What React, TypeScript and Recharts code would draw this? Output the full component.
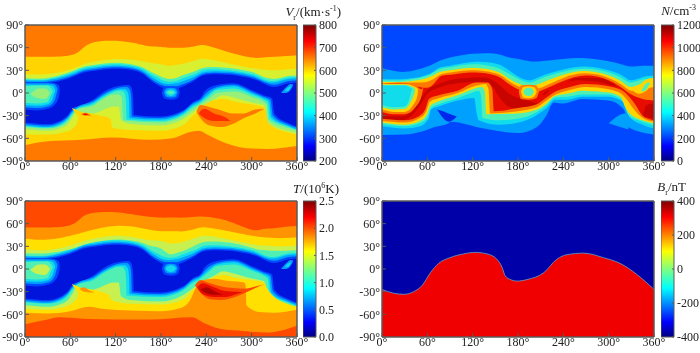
import { Area, ComposedChart, Line, XAxis, YAxis } from "recharts";

const FONT = "'Liberation Serif', 'Times New Roman', serif";
const FRAME = "#5a5a5a";

const lonMajor = [0, 60, 120, 180, 240, 300, 360];
const lonMinor = [0, 10, 20, 30, 40, 50, 60, 70, 80, 90, 100, 110, 120, 130, 140, 150, 160, 170, 180, 190, 200, 210, 220, 230, 240, 250, 260, 270, 280, 290, 300, 310, 320, 330, 340, 350, 360];
const latMajor = [-90, -60, -30, 0, 30, 60, 90];
const latMinor = [-90, -80, -70, -60, -50, -40, -30, -20, -10, 0, 10, 20, 30, 40, 50, 60, 70, 80, 90];

const jetStops: [string, string][] = [
  ["0%", "#00007f"], ["11%", "#0000ff"], ["36%", "#00ffff"], ["50%", "#7fff7f"],
  ["63%", "#ffff00"], ["88%", "#ff0000"], ["100%", "#7f0000"],
];

// north edges of the velocity / temperature belt, lat at each lon
const beltLon = [0, 30, 60, 75, 90, 120, 150, 165, 180, 190, 200, 210, 225, 240, 270, 300, 315, 330, 345, 360];
const vNorthBlue = [13, 13, 20, 26, 29, 32, 28, 18, 8, 6, 6, 9, 17, 24, 24, 19, 13, 8, 12, 14];
const vNorthSky = [15, 15, 22, 28, 31, 34, 30, 20, 11, 9, 9, 12, 19, 26, 26, 21, 15, 11, 15, 17];
const vNorthCyan = [17, 17, 24, 30, 33, 36, 32, 23, 14, 12, 13, 16, 22, 28, 28, 23, 17, 14, 18, 19];
const vNorthTeal = [18, 18, 26, 32, 35, 38, 34, 26, 18, 15, 16, 20, 25, 31, 30, 25, 19, 16, 20, 21];
const vNorthGreen = [20, 20, 28, 34, 37, 40, 36, 29, 22, 19, 20, 24, 29, 34, 33, 28, 22, 19, 22, 23];
const vNorthLime = [25, 25, 31, 37, 41, 45, 43, 40, 38, 36, 37, 39, 43, 45, 39, 33, 31, 30, 31, 32];
const vNorthOrange = [48, 48, 50, 58, 67, 69, 65, 62, 61, 60, 60, 60, 62, 63, 54, 47, 47, 48, 49, 50];

const tNorthLime = [21, 21, 26, 31, 35, 39, 36, 31, 27, 20, 21, 24, 31, 36, 35, 28, 25, 24, 24, 25];
const tNorthYellow = [26, 25, 31, 36, 40, 44, 41, 38, 37, 34, 34, 36, 41, 44, 39, 33, 31, 30, 30, 31];
const tNorthOrange = [40, 39, 44, 48, 52, 57, 55, 52, 50, 50, 50, 50, 53, 55, 50, 44, 42, 41, 41, 42];
const tNorthHot = [55, 55, 58, 68, 74, 75, 71, 69, 68, 68, 68, 68, 69, 69, 63, 52, 53, 54, 56, 57];

// south edges, [lon, lat]
const vSouthBlue = [[0, -39], [30, -41], [46, -37], [57, -29], [65, -19], [73, -17], [90, -9], [105, 2], [117, 7.5], [128, 10], [137, 10.5], [141, 7], [143, -5], [144, -29], [179, -31], [210, -22.5], [223, -11.5], [232, -7], [238.5, 3], [254, 10.5], [276, 13], [302.5, 3], [316, -3], [327, -7], [330, -27], [347, -39], [360, -44.5]];
const vSouthSky = [[0, -41], [30, -43], [46, -39], [57, -31], [64, -22], [70, -18], [90, -11], [105, -1], [117, 5], [127, 7.5], [135, 8], [139, 4], [140.5, -6], [141.5, -31], [179, -33], [210, -24], [222, -14], [232, -9], [240, 0], [254, 8], [276, 11], [302, 1], [316, -5], [325, -9], [328, -29], [347, -41], [360, -46]];
const vSouthCyan = [[0, -43], [30, -45], [46, -41], [57, -33], [63, -25], [70, -20], [90, -13], [105, -3], [117, 3], [125, 5], [132, 5], [136, 1], [137.5, -8], [138.5, -33], [179, -35], [210, -26], [221, -17], [232, -11], [241, -3], [254, 6], [276, 9], [302, -1], [316, -7], [323, -11], [326, -31], [347, -43], [360, -48]];
const vSouthTeal = [[0, -44], [30, -46], [46, -43], [57, -35], [63, -27], [69, -21], [90, -15], [105, -5], [117, 1], [123, 3], [128, 3], [132, -1], [133.5, -10], [134.5, -35], [179, -37], [210, -28], [220, -20], [232, -13], [242, -5], [254, 4], [276, 6], [302, -3], [316, -9], [321, -13], [324, -33], [347, -44], [360, -49]];
const vSouthGreen = [[0, -45], [30, -47], [46, -44], [57, -37], [63, -29], [69, -22], [90, -17], [105, -7], [117, -2], [124, -2], [128, -6], [130, -36], [179, -39], [210, -30], [220, -23], [232, -15], [244, -7], [254, 0], [276, 2], [302, -6], [316, -12], [320, -16], [322, -35], [347, -46], [360, -50]];
const vSouthLime = [[0, -48], [30, -50], [46, -47], [57, -41], [63, -32], [68, -25], [85, -28], [100, -24], [117, -18], [124, -18], [127, -36], [140, -41], [179, -43], [210, -34], [220, -27], [232, -19], [250, -9], [262, -3], [276, -6], [302, -13], [316, -16], [318, -20], [320, -38], [347, -50], [360, -53]];
const vSouthYellow = [[0, -55], [30, -55], [55, -51], [68, -42], [72, -28], [80, -26], [100, -30], [113, -34], [116, -46], [140, -49], [179, -50], [210, -42], [220, -32], [232, -22], [240, -14], [262, -8], [280, -12], [316, -19], [318, -22], [322, -40], [347, -52], [360, -55]];
const vSouthOrange = [[0, -69], [30, -64], [75, -62], [115, -59], [165, -62], [195, -60], [217, -52], [230, -50], [243, -56], [267, -67], [293, -73], [320, -74], [360, -70]];

const tSouthYellow = [[0, -53], [30, -54], [55, -49], [68, -40], [72, -28], [80, -26], [100, -30], [110, -34], [116, -42], [140, -46], [179, -47], [210, -40], [220, -30], [232, -20], [245, -13], [262, -8], [280, -12], [316, -18], [320, -25], [330, -37], [347, -46], [360, -50]];
const tSouthOrange = [[0, -58], [30, -59], [60, -56], [85, -50], [105, -53], [140, -55], [180, -56], [205, -52], [218, -42], [226, -25], [232, -16], [250, -13], [270, -16], [290, -18], [292, -22], [293, -48], [310, -57], [330, -58], [360, -54]];
const tSouthHot = [[0, -73], [30, -67], [45, -64], [77, -66], [120, -67], [165, -67], [221, -64], [236, -71], [258, -79], [289, -82], [320, -84], [360, -75]];

// islands, [lon, lower lat, upper lat]
const vIslandABlue = [[0, -22, 14], [15, -23, 14], [30, -21, 14], [40, -15, 13], [45, -5, 10], [46, 3, 3]];
const vIslandASky = [[0, -19, 13], [15, -20, 13], [30, -18, 13], [38, -12, 12], [42, 0, 8], [43, 5, 5]];
const vIslandACyan = [[0, -16, 11], [15, -17, 11], [30, -15, 11], [36, -9, 10], [39, 0, 6], [40, 3, 3]];
const vIslandATeal = [[0, -13, 9], [15, -14, 10], [30, -12, 10], [33, -6, 8], [36, 0, 4], [37, 2, 2]];
const vIslandAGreen = [[7, -1, -1], [12, -5, 3], [18, -7, 6], [26, -8, 6], [31, -4, 3], [33, 0, 0]];
const spotBlue = [[181, 0, 0], [184, -7, 8], [193, -9, 9], [202, -7, 8], [205, 1, 1]];
const spotSky = [[184, 1, 1], [187, -5, 6], [193, -6, 7], [199, -5, 6], [202, 1, 1]];
const spotCyan = [[186, 1, 1], [189, -3, 4], [193, -4, 5], [197, -3, 4], [200, 1, 1]];
const spotTeal = [[188, 1, 1], [193, -2, 3], [198, 1, 1]];
const stripSky = [[339, 0, 0], [345, 0, 7], [352, 5, 12], [355, 11, 11]];
const stripCyan = [[344, 3, 3], [348, 3, 7], [352, 9, 9]];
const tipYellow = [[62, -20, -20], [72, -32, -24], [85, -36, -28], [100, -36, -31], [114, -35, -35]];
const tipOrange = [[74, -28, -28], [80, -30, -26], [88, -30, -30]];
const tipHot = [[76, -28, -28], [80, -29, -27], [84, -29, -29]];
const vBlobOrange = [[227, -25, -25], [232, -33, -16], [245, -43, -19], [260, -45, -23], [275, -41, -27], [290, -33, -27], [305, -27, -22], [317, -21, -21]];
const vBlobRed = [[230, -27, -27], [237, -33, -21], [250, -37, -27], [265, -37, -32], [272, -37, -37]];

const tTipOrange = [[72, -26, -26], [78, -30, -24], [85, -31, -28], [92, -31, -31]];
const tBlobHot = [[225, -22, -22], [232, -31, -15], [245, -40, -19], [260, -41, -23], [275, -38, -25], [290, -32, -26], [305, -25, -23], [318, -20, -20]];
const tBlobRed = [[228, -24, -24], [235, -33, -19], [250, -37, -24], [265, -37, -29], [280, -33, -30], [288, -31, -31]];
const tBlobDark = [[232, -27, -27], [240, -32, -24], [252, -34, -30], [262, -34, -34]];

// density panel
const nNorthLon = [0, 30, 60, 75, 90, 120, 150, 165, 180, 195, 210, 240, 270, 300, 320, 330, 345, 360];
const nNorthRed = [11, 13, 7, 20, 24, 27, 23, 14, 5, 0, 3, 16, 23, 17, 5, -2, -8, -10];
const nNorthOrange = [13, 14, 15, 23, 27, 30, 26, 18, 9, 5, 7, 20, 26, 20, 9, 3, 5, 8];
const nNorthYellow = [15, 15, 20, 27, 30, 33, 29, 21, 13, 9, 13, 24, 29, 23, 13, 8, 13, 16];
const nNorthTeal = [17, 17, 23, 31, 34, 38, 34, 27, 19, 14, 19, 28, 32, 27, 18, 14, 18, 20];
const nNorthCyan = [18.5, 18.5, 24, 33, 36, 41, 39, 32, 22, 17, 22, 31, 35, 30, 22, 17, 21, 23];
const nNorthBlue = [33, 28, 35, 42, 47, 52, 52, 48, 45, 42, 42, 45, 46, 42, 37, 35, 36, 36];

const nSouthRed = [[0, -34], [30, -36], [50, -30], [58, -20], [62, -8], [75, -3], [100, 3], [125, 14], [140, 14], [146, 5], [148, -24], [180, -20], [205, -15], [215, -8], [230, 2], [245, 7], [270, 12], [300, 9], [320, 2], [328, -6], [335, -15], [345, -30], [360, -36]];
const nSouthOrange = [[0, -37], [30, -39], [50, -33], [59, -23], [63, -12], [75, -7], [100, 0], [125, 10], [137, 12], [141, 5], [143, -27], [180, -24], [205, -19], [215, -12], [230, -2], [245, 3], [270, 8], [300, 5], [318, -2], [325, -10], [332, -20], [345, -33], [360, -38]];
const nSouthYellow = [[0, -39], [30, -42], [50, -37], [60, -27], [64, -17], [75, -11], [100, -3], [120, 5], [132, 8], [136, 3], [138, -28], [180, -27], [205, -22], [218, -14], [229, -4], [245, -1], [265, 3], [298, 1], [316, -5], [320, -14], [326, -25], [345, -36], [360, -40]];
const nSouthTeal = [[0, -41], [30, -44], [50, -40], [61, -30], [65, -20], [75, -15], [100, -7], [118, 0], [128, 3], [131, -3], [133, -33], [155, -36], [185, -33], [205, -25], [218, -16], [229, -6], [245, -5], [265, -2], [298, -2], [316, -8], [320, -17], [325, -28], [345, -38], [360, -43]];
const nSouthCyan = [[0, -44], [30, -47], [50, -44], [62, -33], [65, -22], [75, -18], [100, -10], [122, -6.5], [125, -25], [128, -36], [155, -42], [185, -38], [205, -29], [218, -20], [229, -9], [245, -9], [265, -5], [298, -5], [318, -11], [322, -20], [327, -31], [345, -42], [360, -47]];
const nSouthBlue = [[0, -55.5], [30, -55], [53, -51], [70, -45], [88, -40], [90, -38], [135, -47], [180, -53], [205, -45], [218, -29], [227, -13], [240, -14], [265, -8], [300, -10], [315, -17], [322, -26], [324, -44], [360, -55]];
const nWedge = [[73, -22, -22], [88, -38, -27], [99, -31, -31]];
const nStrip = [[300, -40, -40], [322, -47, -27], [326, -48, -30]];

const nIslandOrange = [[0, -25, 12], [15, -28, 13], [30, -28, 13], [45, -18, 10], [52, -5, 5], [55, 8, 8]];
const nIslandYellow = [[0, -22, 12], [15, -25, 12], [30, -25, 12], [42, -15, 9], [47, -3, 6], [48, 5, 5]];
const nIslandTeal = [[0, -19, 11], [15, -22, 11], [30, -21, 11], [38, -12, 9], [43, 0, 6], [44, 4, 4]];
const nIslandCyan = [[0, -16, 10], [15, -19, 10], [30, -18, 10], [36, -9, 8], [39, 3, 6], [40, 5, 5]];
const nSpotOrange = [[181, 2, 2], [184, -8, 10], [194, -9, 11], [204, -7, 10], [208, 2, 2]];
const nSpotYellow = [[184, 2, 2], [187, -6, 8], [194, -7, 9], [201, -5, 8], [205, 2, 2]];
const nSpotTeal = [[187, 2, 2], [190, -3, 6], [194, -4, 7], [198, -3, 6], [201, 2, 2]];
const nStripYellow = [[332, 3, 3], [340, -1, 10], [350, 3, 18], [358, 14, 20], [360, 17, 17]];
const nStripTeal = [[343, 2, 2], [348, 3, 11], [353, 10, 14], [355, 13, 13]];
const nCore = [[0, -36, -30], [25, -36, -31], [40, -29, -25], [50, -17, -9], [60, -1, 4], [75, 7, 12], [100, 13, 19], [130, 15, 21], [145, 10, 18], [155, -5, 11], [170, -19, -2], [190, -21, -9], [205, -16, -14], [210, -15, -15]];
const nStreakA = [[245, 15, 15], [258, 17, 20], [285, 15, 20], [305, 10, 13], [310, 9, 9]];
const nStreakB = [[212, -3, -3], [216, -2, 2], [222, 4, 4]];
const nPatch = [[345, -33, -33], [350, -32, -16], [360, -34, -14]];

// radial field boundary
const bEdge = [[0, -27], [15, -32], [29, -33.5], [42, -30], [53, -22], [64, -5], [75, 7.5], [90, 15], [108, 20], [123.5, 22], [139, 20], [152, 13], [159, 2], [163, -9], [170, -14], [179, -16], [192, -14], [214, -5], [231.5, 13], [245, 19], [267, 21], [293, 15], [315, 7.5], [337, -7], [360, -27]];

const vTicks = [200, 300, 400, 500, 600, 700, 800];
const nTicks = [0, 200, 400, 600, 800, 1000, 1200];
const tTicks = [0, 0.5, 1, 1.5, 2, 2.5];
const bTicks = [-400, -200, 0, 200, 400];

const DARK = "#0014dc";
const BLUE = "#0048ff";
const SKY = "#00a0ff";
const CYAN = "#10dcec";
const TEAL = "#50f0b4";
const GREEN = "#98f078";
const LIME = "#d8f030";
const YELLOW = "#ffd400";
const ORANGE = "#ff7800";
const HOT = "#ff2c00";
const RED = "#e80c00";
const MAROON = "#b00000";
const N_CORE = "#c80400";
const N_WEDGE = "#0028ec";

type Layer = { color: string; curve: "natural" | "monotone"; band: { lon: number; band: number[] }[] };

const zip = (lons: number[], lats: number[]) => lons.map((lon, i) => [lon, lats[i]]);
const north = (color: string, pts: number[][]): Layer => ({
  color,
  curve: "natural",
  band: pts.map(([lon, lat]) => ({ lon, band: [lat, 90] })),
});
const south = (color: string, pts: number[][]): Layer => ({
  color,
  curve: "monotone",
  band: pts.map(([lon, lat]) => ({ lon, band: [-90, lat] })),
});
const island = (color: string, pts: number[][]): Layer => ({
  color,
  curve: "monotone",
  band: pts.map(([lon, lo, hi]) => ({ lon, band: [lo, hi] })),
});

const vLayers: Layer[] = [
  north(BLUE, zip(beltLon, vNorthBlue)), south(BLUE, vSouthBlue),
  north(SKY, zip(beltLon, vNorthSky)), south(SKY, vSouthSky),
  north(CYAN, zip(beltLon, vNorthCyan)), south(CYAN, vSouthCyan),
  north(TEAL, zip(beltLon, vNorthTeal)), south(TEAL, vSouthTeal),
  north(GREEN, zip(beltLon, vNorthGreen)), south(GREEN, vSouthGreen),
  north(LIME, zip(beltLon, vNorthGreen)), south(LIME, vSouthLime),
  north(YELLOW, zip(beltLon, vNorthLime)), south(YELLOW, vSouthYellow),
  north(ORANGE, zip(beltLon, vNorthOrange)), south(ORANGE, vSouthOrange),
  island(BLUE, vIslandABlue), island(SKY, vIslandASky), island(CYAN, vIslandACyan),
  island(TEAL, vIslandATeal), island(GREEN, vIslandAGreen),
  island(BLUE, spotBlue), island(SKY, spotSky), island(CYAN, spotCyan), island(TEAL, spotTeal),
  island(SKY, stripSky), island(CYAN, stripCyan),
  island(YELLOW, tipYellow), island(ORANGE, tipOrange), island(RED, tipHot),
  island(ORANGE, vBlobOrange), island(HOT, vBlobRed),
];

const T_LIME = "#c8f050";
const T_YELLOW = "#ffe000";
const T_ORANGE = "#ff9400";
const T_HOT = "#ff4800";

const tLayers: Layer[] = [
  north(BLUE, zip(beltLon, vNorthBlue)), south(BLUE, vSouthBlue),
  north(SKY, zip(beltLon, vNorthSky)), south(SKY, vSouthSky),
  north(CYAN, zip(beltLon, vNorthCyan)), south(CYAN, vSouthCyan),
  north(TEAL, zip(beltLon, vNorthTeal)), south(TEAL, vSouthTeal),
  north(T_LIME, zip(beltLon, tNorthLime)), south(T_LIME, vSouthLime),
  north(T_YELLOW, zip(beltLon, tNorthYellow)), south(T_YELLOW, tSouthYellow),
  north(T_ORANGE, zip(beltLon, tNorthOrange)), south(T_ORANGE, tSouthOrange),
  north(T_HOT, zip(beltLon, tNorthHot)), south(T_HOT, tSouthHot),
  island(BLUE, vIslandABlue), island(SKY, vIslandASky), island(CYAN, vIslandACyan),
  island(TEAL, vIslandATeal), island(T_LIME, vIslandAGreen),
  island(BLUE, spotBlue), island(SKY, spotSky), island(CYAN, spotCyan),
  island(SKY, stripSky), island(CYAN, stripCyan),
  island(T_YELLOW, tipYellow), island(T_ORANGE, tTipOrange),
  island(T_HOT, tBlobHot), island(RED, tBlobRed), island(MAROON, tBlobDark),
];

const nLayers: Layer[] = [
  island(N_CORE, nCore), island(N_CORE, nStreakA), island(N_CORE, nStreakB), island(N_CORE, nPatch),
  north(ORANGE, zip(nNorthLon, nNorthRed)), south(ORANGE, nSouthRed),
  north(YELLOW, zip(nNorthLon, nNorthOrange)), south(YELLOW, nSouthOrange),
  north(TEAL, zip(nNorthLon, nNorthYellow)), south(TEAL, nSouthYellow),
  north(CYAN, zip(nNorthLon, nNorthTeal)), south(CYAN, nSouthTeal),
  north(SKY, zip(nNorthLon, nNorthCyan)), south(SKY, nSouthCyan),
  north(BLUE, zip(nNorthLon, nNorthBlue)), south(BLUE, nSouthBlue),
  island(N_WEDGE, nWedge), island(SKY, nStrip),
  island(ORANGE, nIslandOrange), island(YELLOW, nIslandYellow), island(TEAL, nIslandTeal), island(CYAN, nIslandCyan),
  island(ORANGE, nSpotOrange), island(YELLOW, nSpotYellow), island(TEAL, nSpotTeal),
  island(YELLOW, nStripYellow), island(TEAL, nStripTeal),
];

const bLayers: Layer[] = [south("#f00000", bEdge)];

const deg = (v: number) => `${v}°`;
const anchor = [{ lon: 0, lat: 0 }, { lon: 360, lat: 0 }];
const layerBox = { position: "absolute" as const, left: 0, top: 0 };
const THIN = 0.01; // recharts skips an axis of size 0

function FieldMap({ left, top, ground, layers, edge }: { left: number; top: number; ground: string; layers: Layer[]; edge?: number[][] }) {
  const fontTick = { fontSize: 12, fontFamily: FONT, fill: "#222" };
  const base = { stroke: FRAME, allowDataOverflow: true, type: "number" as const };
  const inner = { ...base, mirror: true, tick: false, interval: 0 as const };
  const ghost = { dataKey: "lat", data: anchor, stroke: "none", dot: false, activeDot: false, isAnimationActive: false, legendType: "none" as const };
  return (
    <div style={{ position: "absolute", left: left - 25, top: top - 25, width: 320, height: 178 }}>
      <div style={layerBox}>
        <ComposedChart width={320} height={178} margin={{ top: 25, right: 23, bottom: 17, left: 25 }}>
          <XAxis xAxisId="f" dataKey="lon" type="number" domain={[0, 360]} hide />
          <YAxis yAxisId="f" type="number" domain={[-90, 90]} hide />
          <Area xAxisId="f" yAxisId="f" data={[{ lon: 0, band: [-90, 90] }, { lon: 360, band: [-90, 90] }]} dataKey="band" type="linear" fill={ground} fillOpacity={1} stroke="none" dot={false} activeDot={false} isAnimationActive={false} />
          {layers.map((layer, i) => (
            <Area key={i} xAxisId="f" yAxisId="f" data={layer.band} dataKey="band" type={layer.curve} fill={layer.color} fillOpacity={1} stroke="none" dot={false} activeDot={false} isAnimationActive={false} />
          ))}
          {edge ? (
            <Line xAxisId="f" yAxisId="f" data={edge.map(([lon, lat]) => ({ lon, lat }))} dataKey="lat" type="monotone" stroke="#6f9ec0" strokeWidth={0.8} dot={false} activeDot={false} isAnimationActive={false} />
          ) : null}
        </ComposedChart>
      </div>
      {/* axes sit in a second chart so the frame and ticks stay above the fills */}
      <div style={layerBox}>
        <ComposedChart width={320} height={178} margin={{ top: 25, right: 23, bottom: 2, left: 0 }}>
          <Line xAxisId="b2" yAxisId="l2" {...ghost} />
          <Line xAxisId="b1" yAxisId="l1" {...ghost} />
          <Line xAxisId="t1" yAxisId="r1" {...ghost} />
          <Line xAxisId="t2" yAxisId="r2" {...ghost} />
          <XAxis xAxisId="b1" dataKey="lon" domain={[0, 360]} ticks={lonMinor} tickSize={2} height={THIN} {...inner} />
          <XAxis xAxisId="b2" dataKey="lon" domain={[0, 360]} ticks={lonMajor} interval={0} tick={fontTick} tickFormatter={deg} tickSize={-4} tickMargin={4} height={15} {...base} />
          <XAxis xAxisId="t1" orientation="top" dataKey="lon" domain={[0, 360]} ticks={lonMinor} tickSize={2} height={THIN} {...inner} />
          <XAxis xAxisId="t2" orientation="top" dataKey="lon" domain={[0, 360]} ticks={lonMajor} tickSize={4} height={THIN} {...inner} />
          <YAxis yAxisId="l1" domain={[-90, 90]} ticks={latMinor} tickSize={2} width={THIN} {...inner} />
          <YAxis yAxisId="l2" domain={[-90, 90]} ticks={latMajor} interval={0} tick={fontTick} tickFormatter={deg} tickSize={-4} tickMargin={6} width={25} {...base} />
          <YAxis yAxisId="r1" orientation="right" domain={[-90, 90]} ticks={latMinor} tickSize={2} width={THIN} {...inner} />
          <YAxis yAxisId="r2" orientation="right" domain={[-90, 90]} ticks={latMajor} tickSize={4} width={THIN} {...inner} />
        </ComposedChart>
      </div>
    </div>
  );
}

function ColorBar({ left, top, min, max, ticks, digits = 0, id }: { left: number; top: number; min: number; max: number; ticks: number[]; digits?: number; id: string }) {
  const base = { stroke: FRAME, type: "number" as const };
  const ghost = { dataKey: "v", data: [{ x: 0, v: min }, { x: 1, v: min }], stroke: "none", dot: false, activeDot: false, isAnimationActive: false };
  return (
    <div style={{ position: "absolute", left, top: top - 8, width: 52, height: 152 }}>
      <div style={layerBox}>
        <ComposedChart width={52} height={152} margin={{ top: 8, right: 39, bottom: 8, left: 0 }}>
          <defs>
            <linearGradient id={id} x1="0" x2="0" y1="1" y2="0">
              {jetStops.map(([offset, color]) => (
                <stop key={offset} offset={offset} stopColor={color} />
              ))}
            </linearGradient>
          </defs>
          <XAxis xAxisId="f" dataKey="x" type="number" domain={[0, 1]} hide />
          <YAxis yAxisId="f" type="number" domain={[min, max]} hide />
          <Area xAxisId="f" yAxisId="f" data={[{ x: 0, band: [min, max] }, { x: 1, band: [min, max] }]} dataKey="band" type="linear" fill={`url(#${id})`} fillOpacity={1} stroke="none" dot={false} activeDot={false} isAnimationActive={false} />
        </ComposedChart>
      </div>
      <div style={layerBox}>
        <ComposedChart width={52} height={152} margin={{ top: 8, right: 0, bottom: 8, left: 0 }}>
          <Line xAxisId="x" yAxisId="y" {...ghost} />
          <Line xAxisId="xt" yAxisId="yl" {...ghost} />
          <XAxis xAxisId="x" dataKey="x" domain={[0, 1]} height={THIN} mirror tick={false} tickLine={false} {...base} />
          <XAxis xAxisId="xt" orientation="top" dataKey="x" domain={[0, 1]} height={THIN} mirror tick={false} tickLine={false} {...base} />
          <YAxis yAxisId="yl" domain={[min, max]} width={THIN} mirror tick={false} tickLine={false} {...base} />
          <YAxis yAxisId="y" orientation="right" domain={[min, max]} ticks={ticks} interval={0} tick={{ fontSize: 12, fontFamily: FONT, fill: "#222" }} tickFormatter={(v: number) => v.toFixed(digits)} tickSize={-2} tickMargin={5} width={39} {...base} />
        </ComposedChart>
      </div>
    </div>
  );
}

function Title({ right, top, children }: { right: number; top: number; children: React.ReactNode }) {
  return (
    <div style={{ position: "absolute", left: right - 120, width: 120, top, textAlign: "right", fontFamily: FONT, fontSize: 13, lineHeight: "14px", color: "#222", whiteSpace: "nowrap" }}>
      {children}
    </div>
  );
}

const Sup = ({ children }: { children: React.ReactNode }) => (
  <sup style={{ fontSize: 8, lineHeight: 0 }}>{children}</sup>
);
const Sub = ({ children }: { children: React.ReactNode }) => (
  <sub style={{ fontSize: 8, lineHeight: 0 }}>{children}</sub>
);

export default function App() {
  return (
    <div style={{ position: "absolute", left: 0, top: 0, width: 700, height: 353, background: "#fff", overflow: "hidden", filter: "blur(0.35px)" }}>
      <FieldMap left={25} top={25} ground={DARK} layers={vLayers} />
      <FieldMap left={382} top={25} ground={RED} layers={nLayers} />
      <FieldMap left={25} top={201} ground={DARK} layers={tLayers} />
      <FieldMap left={382} top={201} ground="#0000a8" layers={bLayers} edge={bEdge} />

      <ColorBar id="cbV" left={303} top={25} min={200} max={800} ticks={vTicks} />
      <ColorBar id="cbN" left={661} top={25} min={0} max={1200} ticks={nTicks} />
      <ColorBar id="cbT" left={303} top={201} min={0} max={2.5} ticks={tTicks} digits={1} />
      <ColorBar id="cbB" left={661} top={201} min={-400} max={400} ticks={bTicks} />

      <Title right={341} top={5}><i>V</i><Sub>r</Sub>/(km·s<Sup>-1</Sup>)</Title>
      <Title right={696} top={4}><i>N</i>/cm<Sup>-3</Sup></Title>
      <Title right={339} top={182}><i>T</i>/(10<Sup>6</Sup>K)</Title>
      <Title right={686} top={180}><i>B</i><Sub>r</Sub>/nT</Title>
    </div>
  );
}
